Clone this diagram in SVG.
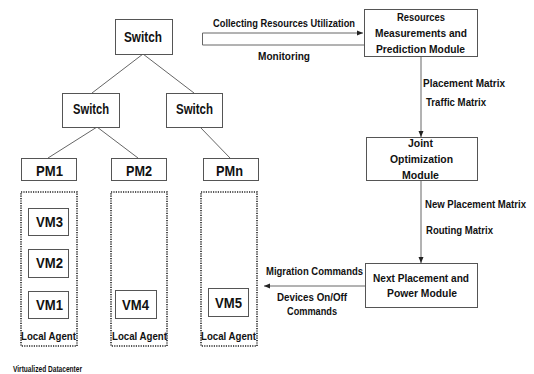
<svg xmlns="http://www.w3.org/2000/svg" width="534" height="374" viewBox="0 0 534 374">
<style>
text{font-family:"Liberation Sans",Arial,sans-serif;font-weight:bold;fill:#111}
.n{fill:#fff;stroke:#555;stroke-width:1}
.l14{font-size:14px}
.l11{font-size:11px}
.l10{font-size:10.5px}
.c{fill:none;stroke:#666;stroke-width:1}
.d{fill:none;stroke:#222;stroke-width:1.6;stroke-dasharray:1.2 1.2}
</style>
<defs>
<marker id="ah" viewBox="0 0 6 6" refX="6" refY="3" markerWidth="6" markerHeight="6" markerUnits="userSpaceOnUse" orient="auto">
<path d="M0,0.5 L6,3 L0,5.5 Z" fill="#222"/>
</marker>
</defs>
<g id="connectors">
<line class="c" x1="143" y1="54" x2="92" y2="93"/>
<line class="c" x1="143" y1="54" x2="194" y2="93"/>
<line class="c" x1="97" y1="127" x2="48" y2="158"/>
<line class="c" x1="97" y1="127" x2="138" y2="158"/>
<line class="c" x1="200" y1="127" x2="230" y2="158"/>
<path class="c" d="M364,45 H202.5 V33 H363" marker-end="url(#ah)"/>
<line class="c" x1="421" y1="56" x2="421" y2="137" marker-end="url(#ah)"/>
<line class="c" x1="421" y1="180" x2="421" y2="263" marker-end="url(#ah)"/>
<line class="c" x1="365" y1="286" x2="264" y2="286" marker-end="url(#ah)"/>
<text class="l10" x="213" y="27" textLength="142" lengthAdjust="spacingAndGlyphs">Collecting Resources Utilization</text>
<text class="l10" x="258" y="60" textLength="52" lengthAdjust="spacingAndGlyphs">Monitoring</text>
<text class="l10" x="423" y="87" textLength="82" lengthAdjust="spacingAndGlyphs">Placement Matrix</text>
<text class="l10" x="426" y="106" textLength="60" lengthAdjust="spacingAndGlyphs">Traffic Matrix</text>
<text style="font-size:10px" x="425" y="208" textLength="101" lengthAdjust="spacingAndGlyphs">New Placement Matrix</text>
<text class="l10" x="426" y="234" textLength="67" lengthAdjust="spacingAndGlyphs">Routing Matrix</text>
<text class="l10" x="266" y="275" textLength="97" lengthAdjust="spacingAndGlyphs">Migration Commands</text>
<text class="l10" x="277" y="301" textLength="70" lengthAdjust="spacingAndGlyphs">Devices On/Off</text>
<text class="l10" x="287" y="315" textLength="50" lengthAdjust="spacingAndGlyphs">Commands</text>
</g>
<g id="switch-top"><rect class="n" x="115.5" y="19.5" width="57" height="35"/><text class="l14" x="124" y="42" textLength="38" lengthAdjust="spacingAndGlyphs">Switch</text></g>
<g id="switch-left"><rect class="n" x="62.5" y="93.5" width="57" height="34"/><text class="l14" x="73" y="114" textLength="36" lengthAdjust="spacingAndGlyphs">Switch</text></g>
<g id="switch-right"><rect class="n" x="166.5" y="93.5" width="56" height="34"/><text class="l14" x="176" y="114" textLength="37" lengthAdjust="spacingAndGlyphs">Switch</text></g>
<g id="pm1"><rect class="n" x="21.5" y="158.5" width="55" height="22"/><text class="l14" x="36" y="176" textLength="27" lengthAdjust="spacingAndGlyphs">PM1</text></g>
<g id="pm2"><rect class="n" x="111.5" y="158.5" width="55" height="22"/><text class="l14" x="126" y="176" textLength="26" lengthAdjust="spacingAndGlyphs">PM2</text></g>
<g id="pmn"><rect class="n" x="203.5" y="158.5" width="55" height="22"/><text class="l14" x="216" y="176" textLength="27" lengthAdjust="spacingAndGlyphs">PMn</text></g>
<g id="agent1"><rect class="d" x="21" y="192" width="56" height="154"/><text class="l11" x="21" y="340" textLength="55" lengthAdjust="spacingAndGlyphs">Local Agent</text></g>
<g id="agent2"><rect class="d" x="111" y="192" width="56" height="154"/><text class="l11" x="112" y="340" textLength="55" lengthAdjust="spacingAndGlyphs">Local Agent</text></g>
<g id="agent3"><rect class="d" x="201" y="192" width="56" height="154"/><text class="l11" x="201" y="340" textLength="55" lengthAdjust="spacingAndGlyphs">Local Agent</text></g>
<g id="vm3"><rect class="n" x="28.5" y="208.5" width="40" height="27"/><text class="l14" x="36" y="227" textLength="27" lengthAdjust="spacingAndGlyphs">VM3</text></g>
<g id="vm2"><rect class="n" x="28.5" y="249.5" width="40" height="28"/><text class="l14" x="36" y="268" textLength="27" lengthAdjust="spacingAndGlyphs">VM2</text></g>
<g id="vm1"><rect class="n" x="28.5" y="291.5" width="40" height="27"/><text class="l14" x="36" y="310" textLength="27" lengthAdjust="spacingAndGlyphs">VM1</text></g>
<g id="vm4"><rect class="n" x="115.5" y="290.5" width="41" height="28"/><text class="l14" x="122" y="310" textLength="27" lengthAdjust="spacingAndGlyphs">VM4</text></g>
<g id="vm5"><rect class="n" x="208.5" y="288.5" width="40" height="28"/><text class="l14" x="215" y="308" textLength="27" lengthAdjust="spacingAndGlyphs">VM5</text></g>
<g id="resources"><rect class="n" x="364.5" y="9.5" width="113" height="47"/>
<text class="l11" x="397" y="21" textLength="48" lengthAdjust="spacingAndGlyphs">Resources</text>
<text class="l11" x="375" y="37" textLength="92" lengthAdjust="spacingAndGlyphs">Measurements and</text>
<text class="l11" x="376" y="53" textLength="89" lengthAdjust="spacingAndGlyphs">Prediction Module</text></g>
<g id="joint"><rect class="n" x="366.5" y="137.5" width="111" height="43"/>
<text class="l11" x="408" y="147" textLength="25" lengthAdjust="spacingAndGlyphs">Joint</text>
<text class="l11" x="390" y="163" textLength="63" lengthAdjust="spacingAndGlyphs">Optimization</text>
<text class="l11" x="402" y="178.5" textLength="37" lengthAdjust="spacingAndGlyphs">Module</text></g>
<g id="next"><rect class="n" x="365.5" y="263.5" width="112" height="44"/>
<text class="l11" x="373" y="282" textLength="96" lengthAdjust="spacingAndGlyphs">Next Placement and</text>
<text class="l11" x="387" y="297" textLength="70" lengthAdjust="spacingAndGlyphs">Power Module</text></g>
<text style="font-size:8.5px" x="13" y="372" textLength="69" lengthAdjust="spacingAndGlyphs">Virtualized Datacenter</text>
</svg>
